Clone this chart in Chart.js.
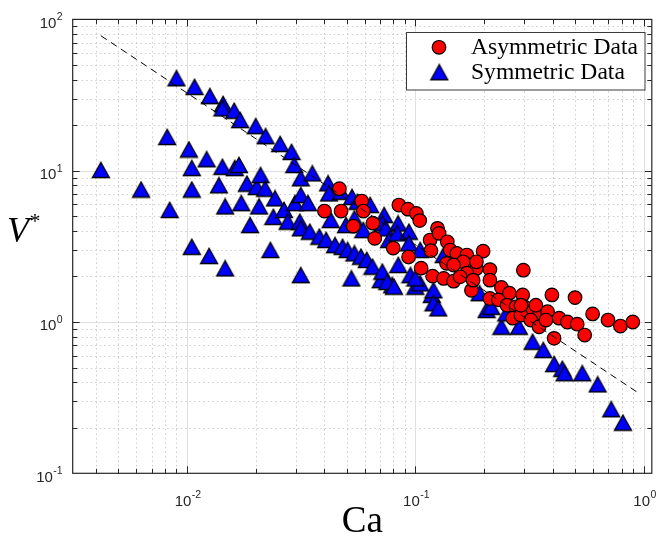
<!DOCTYPE html>
<html><head><meta charset="utf-8">
<script src="https://cdn.jsdelivr.net/npm/chart.js@4.4.1/dist/chart.umd.min.js"></script>
<style>html,body{margin:0;padding:0;background:#fff}#wrap{width:661px;height:537px;position:relative}</style>
</head><body><div id="wrap"><canvas id="c" width="661" height="537"></canvas></div>
<script>
// ---- data ----
const asymCa = [0.0400,0.0473,0.0465,0.0582,0.0592,0.0535,0.0652,0.0664,0.0800,0.0847,0.0928,0.101,0.1045,0.0934,0.106,0.116,0.117,0.125,0.127,0.138,0.142,0.152,0.168,0.198,0.119,0.133,0.147,0.137,0.162,0.185,0.168,0.212,0.212,0.176,0.238,0.258,0.212,0.231,0.252,0.297,0.295,0.276,0.300,0.326,0.348,0.337,0.379,0.267,0.290,0.320,0.348,0.405,0.373,0.426,0.463,0.511,0.551,0.396,0.500,0.597,0.697,0.790,0.895,0.157,0.147,0.185,0.290,0.179];
const asymV  = [5.41,5.41,7.6,6.3,5.41,4.3,4.5,3.57,3.08,5.93,5.57,5.22,4.68,2.69,2.27,3.48,2.96,4.16,3.85,3.39,2.99,2.84,2.77,2.94,2.01,1.94,1.86,2.44,2.50,2.26,2.10,2.22,1.89,1.62,1.69,1.55,1.43,1.40,1.29,2.20,1.51,1.26,1.26,1.17,1.11,1.29,1.17,1.06,1.11,1.03,0.93,0.78,1.03,1.06,1.00,0.967,0.82,1.51,1.45,1.13,1.03,0.94,1.00,1.99,2.38,2.50,1.29,1.89];
const symCa = [0.0042,0.0063,0.0082,0.0084,0.0090,0.0102,0.0105,0.0105,0.0105,0.0108,0.0122,0.0125,0.0126,0.0138,0.0143,0.0144,0.0143,0.0147,0.0147,0.0161,0.0162,0.0169,0.0171,0.0173,0.0183,0.0189,0.0200,0.0202,0.0207,0.0210,0.0220,0.0221,0.0232,0.0239,0.0243,0.0256,0.0266,0.0276,0.0287,0.0295,0.0297,0.0312,0.0315,0.0315,0.0315,0.0339,0.0345,0.0354,0.0380,0.0407,0.0415,0.0419,0.0426,0.0445,0.0473,0.0480,0.0497,0.0505,0.0528,0.0541,0.0541,0.0558,0.0578,0.0592,0.0613,0.0634,0.0649,0.0705,0.0717,0.0730,0.0717,0.0741,0.0767,0.0792,0.0840,0.0833,0.0842,0.0937,0.0937,0.0952,0.100,0.105,0.105,0.118,0.120,0.120,0.126,0.133,0.0315,0.0525,0.0754,0.0806,0.191,0.205,0.215,0.238,0.250,0.284,0.326,0.363,0.405,0.440,0.450,0.538,0.628,0.720,0.810,0.100];
const symV  = [10.1,7.5,16.7,5.5,40.8,13.8,10.4,7.5,3.14,35.8,11.9,2.73,31.1,8.0,10.6,27.6,25.8,5.8,2.26,24.9,10.4,10.9,21.6,6.1,8.2,4.37,19.7,7.8,5.8,9.35,7.6,16.9,2.99,4.95,6.56,15.0,5.5,4.6,13.3,10.9,6.1,4.6,8.9,6.9,4.16,6.1,3.95,9.6,3.66,3.48,8.25,7.07,4.72,3.22,7.25,3.14,4.37,2.99,6.7,4.84,2.84,6.23,2.70,4.05,2.57,5.93,2.32,1.89,2.15,5.09,4.48,4.16,3.48,1.75,4.48,3.85,2.38,3.95,3.31,2.04,1.71,2.99,1.80,1.51,1.62,1.33,1.23,2.77,2.04,1.94,1.84,1.71,1.55,1.20,1.26,0.93,1.14,0.93,0.74,0.652,0.527,0.490,0.458,0.458,0.387,0.265,0.216,1.94];
const fitCa = [0.0042, 0.946];
const fitV  = [78.0, 0.34];
const xTickExps = [-2, -1, 0];
const yTickExps = [-1, 0, 1, 2];
const legendLabels = ['Asymmetric Data', 'Symmetric Data'];
const xTitle = 'Ca';
const yTitle = 'V';

// ---- markers ----
const triImg = (() => {
  const c = document.createElement('canvas'); c.width = 20; c.height = 18;
  const g = c.getContext('2d');
  g.beginPath(); g.moveTo(10, 1.3); g.lineTo(1.5, 16.5); g.lineTo(18.5, 16.5); g.closePath();
  g.fillStyle = '#0000ff'; g.fill();
  g.lineWidth = 1.3; g.strokeStyle = '#000'; g.lineJoin = 'miter'; g.stroke();
  return c;
})();

const AXC = '#262626';
function drawPow(ctx, exp, x, y, align) {
  const base = '10', sup = exp < 0 ? '-' + (-exp) : String(exp);
  ctx.font = '15px "Liberation Sans", Arial, sans-serif';
  const wb = ctx.measureText(base).width;
  ctx.font = '10.5px "Liberation Sans", Arial, sans-serif';
  const ws = ctx.measureText(sup).width;
  const total = wb + ws + 0.5;
  const x0 = align === 'right' ? x - total : x - total / 2;
  ctx.fillStyle = AXC; ctx.textAlign = 'left'; ctx.textBaseline = 'alphabetic';
  ctx.font = '15px "Liberation Sans", Arial, sans-serif';
  ctx.fillText(base, x0, y + 5.4);
  ctx.font = '10.5px "Liberation Sans", Arial, sans-serif';
  ctx.fillText(sup, x0 + wb + 0.5, y - 2);
}

const framePlugin = {
  id: 'frame',
  beforeDatasetsDraw(chart) {
    const { ctx, chartArea: a, scales: { x, y } } = chart;
    ctx.save();
    ctx.lineWidth = 1;
    const vlines = [], hlines = [];
    for (let d = -3; d <= 0; d++) for (let m = 1; m <= 9; m++) {
      const v = m * Math.pow(10, d);
      if (v > x.min && v < x.max) vlines.push([Math.round(x.getPixelForValue(v)) + 0.5, m === 1]);
    }
    for (let d = -1; d <= 1; d++) for (let m = 1; m <= 9; m++) {
      const v = m * Math.pow(10, d);
      if (v > y.min && v < y.max) hlines.push([Math.round(y.getPixelForValue(v)) + 0.5, m === 1]);
    }
    // minor dotted
    ctx.strokeStyle = 'rgb(205,205,205)'; ctx.setLineDash([1.5, 3]);
    ctx.beginPath();
    vlines.filter(l => !l[1]).forEach(([p]) => { ctx.moveTo(p, a.top); ctx.lineTo(p, a.bottom); });
    hlines.filter(l => !l[1]).forEach(([p]) => { ctx.moveTo(a.left, p); ctx.lineTo(a.right, p); });
    ctx.stroke();
    ctx.setLineDash([]);
    ctx.strokeStyle = 'rgb(223,223,223)';
    ctx.beginPath();
    vlines.filter(l => l[1]).forEach(([p]) => { ctx.moveTo(p, a.top); ctx.lineTo(p, a.bottom); });
    hlines.filter(l => l[1]).forEach(([p]) => { ctx.moveTo(a.left, p); ctx.lineTo(a.right, p); });
    ctx.stroke();
    ctx.restore();
  },
  afterDatasetsDraw(chart) {
    const { ctx, chartArea: a, scales: { x, y } } = chart;
    ctx.save();
    // box
    ctx.strokeStyle = AXC; ctx.lineWidth = 1.2;
    ctx.strokeRect(a.left, a.top, a.right - a.left, a.bottom - a.top);
    // ticks
    ctx.lineWidth = 1;
    ctx.beginPath();
    for (let d = -3; d <= 0; d++) for (let m = 1; m <= 9; m++) {
      const v = m * Math.pow(10, d);
      if (v > x.min && v < x.max) {
        const p = Math.round(x.getPixelForValue(v)) + 0.5, L = m === 1 ? 7 : 4.5;
        ctx.moveTo(p, a.bottom); ctx.lineTo(p, a.bottom - L);
        ctx.moveTo(p, a.top); ctx.lineTo(p, a.top + L);
      }
    }
    for (let d = -1; d <= 2; d++) for (let m = 1; m <= 9; m++) {
      const v = m * Math.pow(10, d);
      if (v > y.min && v < y.max) {
        const p = Math.round(y.getPixelForValue(v)) + 0.5, L = m === 1 ? 7 : 4.5;
        ctx.moveTo(a.left, p); ctx.lineTo(a.left + L, p);
        ctx.moveTo(a.right, p); ctx.lineTo(a.right - L, p);
      }
    }
    ctx.stroke();
    // tick labels
    yTickExps.forEach(e => drawPow(ctx, e, a.left - 10, y.getPixelForValue(Math.pow(10, e)) + 3, 'right'));
    xTickExps.forEach(e => drawPow(ctx, e, x.getPixelForValue(Math.pow(10, e)) + 1, a.bottom + 27, 'center'));
    // axis titles
    ctx.fillStyle = '#000';
    ctx.textAlign = 'center'; ctx.textBaseline = 'alphabetic';
    ctx.font = '37px "Liberation Serif", "Times New Roman", serif';
    ctx.fillText(xTitle, (a.left + a.right) / 2, 531.5);
    ctx.textAlign = 'left';
    ctx.font = 'italic 36px "Liberation Serif", "Times New Roman", serif';
    ctx.fillText(yTitle, 7, 242);
    const vw = ctx.measureText(yTitle).width;
    ctx.font = '22px "Liberation Serif", "Times New Roman", serif';
    ctx.fillText('*', 7 + vw + 0.5, 228);
    // legend
    const bx = 406.5, by = 32.5, bw = 238.5, bh = 57.5;
    ctx.fillStyle = '#fff'; ctx.fillRect(bx, by, bw, bh);
    ctx.strokeStyle = '#3a3a3a'; ctx.lineWidth = 1; ctx.strokeRect(bx, by, bw, bh);
    ctx.beginPath(); ctx.arc(439, 47.3, 6.8, 0, Math.PI * 2);
    ctx.fillStyle = '#ff0000'; ctx.fill(); ctx.lineWidth = 1.2; ctx.strokeStyle = '#000'; ctx.stroke();
    ctx.drawImage(triImg, 439.3 - 10, 72.3 - 9);
    ctx.font = '100px "Liberation Serif", "Times New Roman", serif';
    const fs = 100 * 167 / ctx.measureText(legendLabels[0]).width;
    ctx.font = fs.toFixed(2) + 'px "Liberation Serif", "Times New Roman", serif';
    ctx.fillStyle = '#000'; ctx.textAlign = 'left';
    ctx.fillText(legendLabels[0], 471, 53.5);
    ctx.fillText(legendLabels[1], 471, 79);
    ctx.restore();
  }
};

const pts = (xs, ys) => xs.map((v, i) => ({ x: v, y: ys[i] }));

new Chart(document.getElementById('c'), {
  type: 'scatter',
  data: {
    datasets: [
      { type: 'line', label: 'fit', data: pts(fitCa, fitV), showLine: true, borderColor: '#000', borderWidth: 1,
        borderDash: [7, 5], pointRadius: 0, fill: false, order: 0 },
      { label: legendLabels[0], data: pts(asymCa, asymV), pointStyle: 'circle', pointRadius: 6.8,
        backgroundColor: '#ff0000', borderColor: '#000', borderWidth: 1.2, order: 1 },
      { label: legendLabels[1], data: pts(symCa, symV), pointStyle: triImg, pointRadius: 8,
        backgroundColor: '#0000ff', borderColor: '#000', borderWidth: 1.2, order: 2 }
    ]
  },
  options: {
    responsive: false, animation: false, devicePixelRatio: 1,
    layout: { padding: { left: 72.7, right: 4, top: 19.4, bottom: 63.7 } },
    scales: {
      x: { type: 'logarithmic', min: 0.003162, max: 1.084, grid: { display: false }, ticks: { display: false },
           border: { display: false }, afterFit(s) { s.height = 0; } },
      y: { type: 'logarithmic', min: 0.1, max: 100, grid: { display: false }, ticks: { display: false },
           border: { display: false }, afterFit(s) { s.width = 0; } }
    },
    plugins: { legend: { display: false }, tooltip: { enabled: false } }
  },
  plugins: [framePlugin]
});
</script></body></html>
